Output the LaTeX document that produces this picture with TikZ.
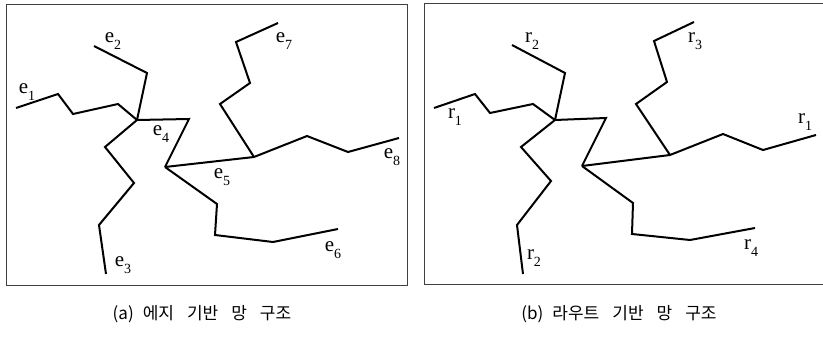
\documentclass[tikz,border=0pt]{standalone}
\usepackage{fontspec}
\setmainfont{Liberation Serif}
\newfontfamily\krfont{Noto Sans CJK KR}
\newcommand{\lbl}[2]{#1\raisebox{-7.5pt}{\fontsize{14}{14}\selectfont #2}}
\begin{document}
\begin{tikzpicture}[x=1pt,y=-1pt,
  road/.style={line width=2pt, line join=miter, line cap=butt},
  frame/.style={draw=black!75, line width=0.8pt},
  lab/.style={inner sep=0pt, font=\fontsize{21}{21}\selectfont},
  captext/.style={inner sep=0pt, font=\krfont\fontsize{17}{17}\selectfont}]
\useasboundingbox (0,0) rectangle (823,337);
% frames
\draw[frame] (6,4) rectangle (407,285);
\draw[frame] (424,3) -- (823.5,3);
\draw[frame] (424,3) -- (424,284) -- (823.5,284);

% ---------- panel (a) ----------
\coordinate (a1) at (137,120);
\coordinate (a2) at (165,167);
\coordinate (a3) at (254,157);
\draw[road] (16,108) -- (58,94) -- (73,114) -- (118,104) -- (a1);
\draw[road] (94,46) -- (147,73) -- (a1);
\draw[road] (a1) -- (189,119) -- (a2);
\draw[road] (a1) -- (105,147) -- (134,183) -- (99,225) -- (106,274);
\draw[road] (a2) -- (a3);
\draw[road] (a2) -- (217,204) -- (215,235) -- (273,242) -- (338,229);
\draw[road] (a3) -- (220,104) -- (250,83) -- (236,42) -- (278,23);
\draw[road] (a3) -- (307,136) -- (348,152) -- (399,138);
\node[lab] (e1) at (27,92) {\lbl{e}{1}};
\node[lab] (e2) at (113,41) {\lbl{e}{2}};
\node[lab] (e3) at (123,265) {\lbl{e}{3}};
\node[lab] (e4) at (161,134) {\lbl{e}{4}};
\node[lab] (e5) at (222,177) {\lbl{e}{5}};
\node[lab] (e6) at (333,250) {\lbl{e}{6}};
\node[lab] (e7) at (284,41) {\lbl{e}{7}};
\node[lab] (e8) at (392,157) {\lbl{e}{8}};

% ---------- panel (b) ----------
\coordinate (b1) at (555,120);
\coordinate (b2) at (582,166);
\coordinate (b3) at (670,155);
\draw[road] (434,108) -- (475,94) -- (490,113) -- (533,104) -- (b1);
\draw[road] (512,45) -- (565,73) -- (b1);
\draw[road] (b1) -- (606,118) -- (b2);
\draw[road] (b1) -- (521,147) -- (551,181) -- (517,225) -- (523,274);
\draw[road] (b2) -- (b3);
\draw[road] (b2) -- (633,203) -- (632,234) -- (690,240) -- (755,228);
\draw[road] (b3) -- (636,104) -- (667,82) -- (654,41) -- (694,22);
\draw[road] (b3) -- (723,134) -- (763,150) -- (816,135);
\node[lab] (r2a) at (532,41) {\lbl{r}{2}};
\node[lab] (r1a) at (455,117) {\lbl{r}{1}};
\node[lab] (r3) at (695,41) {\lbl{r}{3}};
\node[lab] (r1b) at (805,122) {\lbl{r}{1}};
\node[lab] (r4) at (751,248) {\lbl{r}{4}};
\node[lab] (r2b) at (534,258) {\lbl{r}{2}};

% captions
\node[captext] (capa) at (202,314) {(a)\hspace{9pt}에지\hspace{13pt}기반\hspace{13pt}망\hspace{13pt}구조};
\node[captext] (capb) at (619,314) {(b)\hspace{9pt}라우트\hspace{13pt}기반\hspace{13pt}망\hspace{13pt}구조};
\end{tikzpicture}
\end{document}
